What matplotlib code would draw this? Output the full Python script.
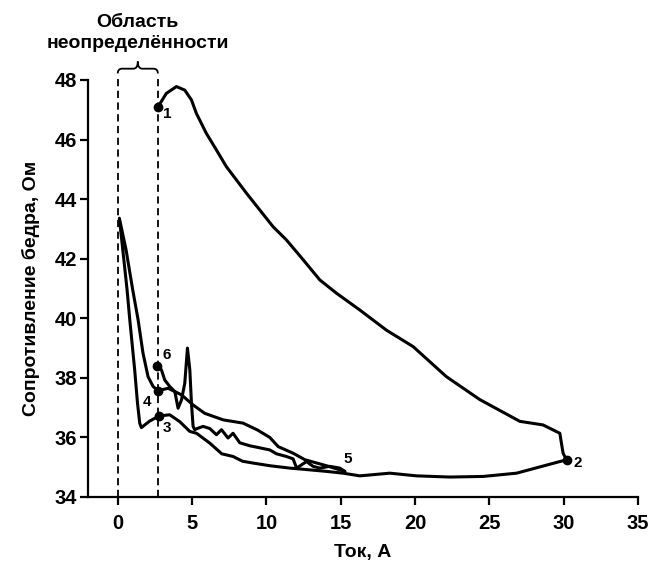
import matplotlib
matplotlib.use("Agg")
import matplotlib.pyplot as plt
from matplotlib.path import Path
from matplotlib.patches import PathPatch
import matplotlib.transforms as mtransforms

plt.rcParams['font.family'] = ['Liberation Sans', 'DejaVu Sans']
plt.rcParams['font.weight'] = 'bold'
plt.rcParams['axes.labelweight'] = 'bold'

# ---- data ----
# segment 1 -> 2 (current rising)
seg12_x = [2.71, 3.27, 3.95, 4.51, 4.96, 5.29, 5.96, 6.64, 7.31, 8.66, 10.44, 11.35, 12.5,
           13.59, 14.72, 16.28, 18.08, 19.87, 22.11, 24.36, 27.05, 28.61, 29.74, 29.96, 30.19]
seg12_y = [47.10, 47.55, 47.78, 47.66, 47.33, 46.88, 46.21, 45.65, 45.09, 44.20, 43.08, 42.63, 41.95,
           41.29, 40.84, 40.28, 39.60, 39.05, 38.04, 37.27, 36.54, 36.42, 36.14, 35.47, 35.25]
# segment 2 -> 3 (bottom return)
seg23_x = [30.19, 28.62, 26.83, 24.58, 22.34, 20.10, 18.30, 16.29, 15.16, 14.04, 12.50, 11.57,
           10.23, 9.10, 8.40, 7.76, 7.00, 6.19, 5.30, 4.85, 4.17, 3.50, 2.78]
seg23_y = [35.25, 35.04, 34.80, 34.69, 34.67, 34.71, 34.80, 34.71, 34.80, 34.86, 34.93, 34.97,
           35.05, 35.14, 35.20, 35.36, 35.45, 35.81, 36.14, 36.20, 36.53, 36.76, 36.72]
# segment 3 -> peak -> 4
seg34_x = [2.78, 2.15, 1.59, 1.48, 1.33, 1.14, 0.81, 0.63, 0.34, 0.11,
           0.56, 1.01, 1.37, 1.70, 2.04, 2.38, 2.71]
seg34_y = [36.72, 36.55, 36.33, 36.48, 37.15, 38.27, 39.95, 40.95, 42.30, 43.36,
           42.30, 40.95, 39.95, 38.83, 38.04, 37.71, 37.57]
# segment 4 -> 5
seg45_x = [2.71, 3.39, 4.29, 5.07, 5.85, 7.09, 8.43, 9.40, 10.23, 10.80, 11.80, 12.60, 14.04, 15.28]
seg45_y = [37.57, 37.65, 37.43, 37.09, 36.81, 36.59, 36.48, 36.25, 36.00, 35.69, 35.47, 35.25, 35.05, 34.86]
# segment 5 -> 6 (wiggly, with spike)
seg56_x = [15.28, 14.94, 14.27, 13.59, 13.14, 12.70, 12.03, 11.80, 11.35, 10.68, 10.23, 9.56,
           8.88, 8.21, 7.76, 7.42, 6.98, 6.64, 6.19, 5.74, 5.35, 5.18, 5.07, 4.96, 4.85,
           4.69, 4.51, 4.29, 4.06, 3.95, 3.84, 3.50, 3.16, 2.94, 2.67]
seg56_y = [34.86, 34.97, 35.03, 34.97, 35.03, 35.19, 34.97, 35.28, 35.36, 35.45, 35.58, 35.65,
           35.72, 35.82, 36.14, 35.98, 36.26, 36.09, 36.30, 36.37, 36.30, 36.26, 36.37, 37.15, 38.27,
           39.00, 37.82, 37.26, 36.98, 37.26, 37.54, 37.71, 37.93, 38.27, 38.41]

point_labels = ['1', '2', '3', '4', '5', '6']
label_offsets = [(7, -5), (8, -2), (6, -9), (-8, -8), (2, 9), (7, 8)]
uncertainty_bounds = [0.0, 2.7]

x_ticks = [0, 5, 10, 15, 20, 25, 30, 35]
y_ticks = [34, 36, 38, 40, 42, 44, 46, 48]
x_label = 'Ток, А'
y_label = 'Сопротивление бедра, Ом'
region_title = 'Область\nнеопределённости'

# ---- figure ----
fig = plt.figure(figsize=(6.53, 5.67), dpi=100)
ax = fig.add_axes([88/653, 1-497/567, 550/653, 417/567])

segments = [(seg12_x, seg12_y), (seg23_x, seg23_y), (seg34_x, seg34_y),
            (seg45_x, seg45_y), (seg56_x, seg56_y)]
for sx, sy in segments:
    ax.plot(sx, sy, color='black', lw=2.2, solid_joinstyle='round',
            solid_capstyle='round', clip_on=False, zorder=3)

# key points
pts = [(seg12_x[0], seg12_y[0]), (seg12_x[-1], seg12_y[-1]), (seg23_x[-1], seg23_y[-1]),
       (seg34_x[-1], seg34_y[-1]), (seg45_x[-1], seg45_y[-1]), (seg56_x[-1], seg56_y[-1])]
for (px, py), lab, off in zip(pts, point_labels, label_offsets):
    if lab != '5':
        ax.plot(px, py, 'o', color='black', ms=6, zorder=4, clip_on=False)
    ax.annotate(lab, (px, py), xytext=off, textcoords='offset points',
                ha='center', va='center', fontsize=11, fontweight='bold')

# uncertainty region dashed lines
for xb in uncertainty_bounds:
    ax.plot([xb, xb], [34, 48.1], color='black', lw=1.3, ls=(0, (4, 2.5)),
            clip_on=False, zorder=2)

# curly brace
x0, x1 = uncertainty_bounds
xm = (x0 + x1) / 2
yb, yh, yt = 48.22, 48.38, 48.62
verts = [(x0, yb), (x0, yh), (x0 + 0.3, yh),
         (xm - 0.3, yh), (xm, yh), (xm, yt),
         (xm, yh), (xm + 0.3, yh),
         (x1 - 0.3, yh), (x1, yh), (x1, yb)]
codes = [Path.MOVETO, Path.CURVE3, Path.CURVE3,
         Path.LINETO, Path.CURVE3, Path.CURVE3,
         Path.CURVE3, Path.CURVE3,
         Path.LINETO, Path.CURVE3, Path.CURVE3]
ax.add_patch(PathPatch(Path(verts, codes), fill=False, lw=1.3, ec='black', clip_on=False))

trans = mtransforms.blended_transform_factory(ax.transData, fig.transFigure)
ax.text(xm, 1 - 33/567, region_title, transform=trans, ha='center', va='center',
        fontsize=14, linespacing=1.35)

ax.set_xlim(-2, 35)
ax.set_ylim(34, 48)
ax.set_xticks(x_ticks)
ax.set_yticks(y_ticks)
ax.spines['top'].set_visible(False)
ax.spines['right'].set_visible(False)
for s in ['left', 'bottom']:
    ax.spines[s].set_linewidth(1.6)
ax.tick_params(axis='both', direction='out', length=6, width=1.6, labelsize=14.5, pad=2)
ax.tick_params(axis='x', pad=6)
ax.set_xlabel(x_label, fontsize=14, labelpad=8)
ax.set_ylabel(y_label, fontsize=14, labelpad=10)

fig.savefig('out.png', dpi=100)
